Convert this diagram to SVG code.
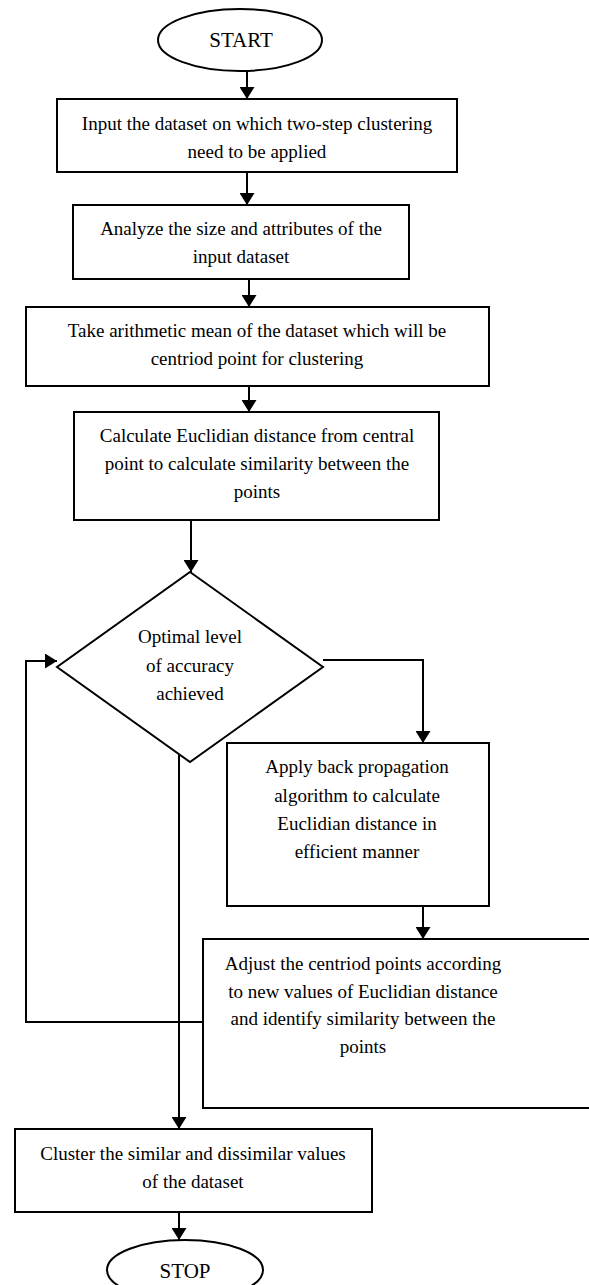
<svg xmlns="http://www.w3.org/2000/svg" width="589" height="1285" viewBox="0 0 589 1285">
<defs>
<marker id="ah" viewBox="0 0 12 15" refX="12" refY="7.5" markerWidth="12" markerHeight="15" markerUnits="userSpaceOnUse" orient="auto">
<path d="M0,0 L12,7.5 L0,15 Z" fill="#000"/>
</marker>
<style>
.box{fill:#fff;stroke:#000;stroke-width:2}
.t{font-family:'Liberation Serif','Times New Roman',serif;font-size:19px;fill:#000;text-anchor:middle}
.tl{font-family:'Liberation Serif','Times New Roman',serif;font-size:21px;fill:#000;text-anchor:middle}
.c{fill:none;stroke:#000;stroke-width:2}
.ca{fill:none;stroke:#000;stroke-width:2;marker-end:url(#ah)}
</style>
</defs>
<rect width="589" height="1285" fill="#fff"/>
<g id="connectors">
<line class="ca" x1="247" y1="71" x2="247" y2="99"/>
<line class="ca" x1="247" y1="172" x2="247" y2="205"/>
<line class="ca" x1="249" y1="279" x2="249" y2="307"/>
<line class="ca" x1="249" y1="386" x2="249" y2="412"/>
<line class="ca" x1="191" y1="520" x2="191" y2="572"/>
<polyline class="ca" points="323,660 423,660 423,743"/>
<line class="ca" x1="423" y1="906" x2="423" y2="939"/>
<polyline class="ca" points="203,1022 26,1022 26,661 57,661"/>
<line class="ca" x1="179" y1="752" x2="179" y2="1129"/>
<line class="ca" x1="179" y1="1212" x2="179" y2="1240"/>
</g>
<g id="start">
<ellipse class="box" cx="240" cy="40" rx="82" ry="31"/>
<text class="tl" x="241" y="47">START</text>
</g>
<g id="input">
<rect class="box" x="57" y="99" width="400" height="73"/>
<text class="t" x="257" y="130">Input the dataset on which two-step clustering</text>
<text class="t" x="257" y="158">need to be applied</text>
</g>
<g id="analyze">
<rect class="box" x="73" y="205" width="336" height="74"/>
<text class="t" x="241" y="235">Analyze the size and attributes of the</text>
<text class="t" x="241" y="263">input dataset</text>
</g>
<g id="mean">
<rect class="box" x="26" y="307" width="463" height="79"/>
<text class="t" x="257" y="337">Take arithmetic mean of the dataset which will be</text>
<text class="t" x="257" y="365">centriod point for clustering</text>
</g>
<g id="euclid">
<rect class="box" x="74" y="412" width="365" height="108"/>
<text class="t" x="257" y="442">Calculate Euclidian distance from central</text>
<text class="t" x="257" y="470">point to calculate similarity between the</text>
<text class="t" x="257" y="498">points</text>
</g>
<g id="decision">
<polygon class="box" points="190,572 323,667 190,762 57,667"/>
<text class="t" x="190" y="643">Optimal level</text>
<text class="t" x="190" y="672">of accuracy</text>
<text class="t" x="190" y="700">achieved</text>
</g>
<g id="backprop">
<rect class="box" x="227" y="743" width="262" height="163"/>
<text class="t" x="357" y="773">Apply back propagation</text>
<text class="t" x="357" y="802">algorithm to calculate</text>
<text class="t" x="357" y="830">Euclidian distance in</text>
<text class="t" x="357" y="858">efficient manner</text>
</g>
<g id="adjust">
<rect class="box" x="203" y="939" width="400" height="169"/>
<text class="t" x="363" y="970">Adjust the centriod points according</text>
<text class="t" x="363" y="998">to new values of Euclidian distance</text>
<text class="t" x="363" y="1025">and identify similarity between the</text>
<text class="t" x="363" y="1053">points</text>
</g>
<g id="cluster">
<rect class="box" x="15" y="1129" width="357" height="83"/>
<text class="t" x="193" y="1160">Cluster the similar and dissimilar values</text>
<text class="t" x="193" y="1188">of the dataset</text>
</g>
<g id="stop">
<ellipse class="box" cx="185" cy="1270" rx="78" ry="30"/>
<text class="tl" x="185" y="1278">STOP</text>
</g>
</svg>
